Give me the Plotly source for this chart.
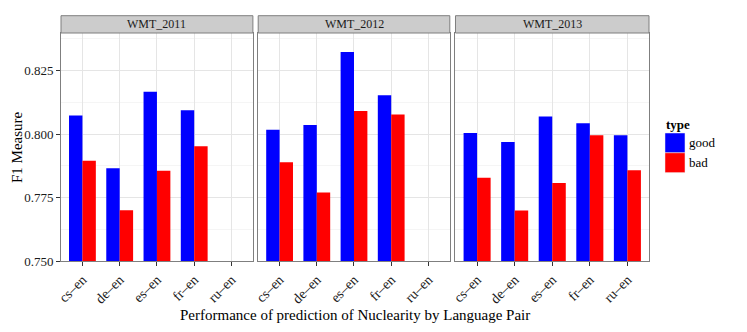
import plotly.graph_objects as go

pairs = ["cs\u2013en", "de\u2013en", "es\u2013en", "fr\u2013en", "ru\u2013en"]
years = ["WMT_2011", "WMT_2012", "WMT_2013"]
good_2011 = [0.8073, 0.7865, 0.8167, 0.8094, None]
bad_2011 = [0.7895, 0.7700, 0.7855, 0.7952, None]
good_2012 = [0.8017, 0.8036, 0.8323, 0.8153, None]
bad_2012 = [0.7889, 0.7770, 0.8091, 0.8077, None]
good_2013 = [0.8004, 0.7969, 0.8069, 0.8043, 0.7995]
bad_2013 = [0.7828, 0.7699, 0.7807, 0.7995, 0.7857]
y_ticks = [0.750, 0.775, 0.800, 0.825]
y_minor = [0.7625, 0.7875, 0.8125, 0.8375]

good_color = "#0000FF"
bad_color = "#FF0000"
FONT = "Liberation Serif"

goods = [good_2011, good_2012, good_2013]
bads = [bad_2011, bad_2012, bad_2013]

fig = go.Figure()
for i in range(3):
    sfx = "" if i == 0 else str(i + 1)
    fig.add_trace(go.Bar(x=pairs, y=goods[i], name="good", marker_color=good_color,
                         marker_line_width=0, xaxis="x" + sfx, yaxis="y" + sfx,
                         showlegend=False, offsetgroup="good"))
    fig.add_trace(go.Bar(x=pairs, y=bads[i], name="bad", marker_color=bad_color,
                         marker_line_width=0, xaxis="x" + sfx, yaxis="y" + sfx,
                         showlegend=False, offsetgroup="bad"))

# the page body has an 8px margin, so the figure is sized/offset to compensate
W = 588.3
H = 228.0
domains = [[0, 192 / W], [197.3 / W, 389 / W], [394.7 / W, 1]]
border = "#7F7F7F"
grid = "#E5E5E5"
layout = dict(
    width=739, height=324,
    margin=dict(l=53, r=98, t=25, b=71, autoexpand=False),
    paper_bgcolor="white", plot_bgcolor="white",
    barmode="group", bargap=0.28, bargroupgap=0,
    font=dict(family=FONT, size=13, color="#000000"),
    showlegend=False,
)
for i in range(3):
    sfx = "" if i == 0 else str(i + 1)
    layout["xaxis" + sfx] = dict(
        domain=domains[i], anchor="y" + sfx, type="category",
        categoryorder="array", categoryarray=pairs, automargin=False,
        range=[-0.575, 4.575], showgrid=True, gridcolor=grid, gridwidth=1,
        showline=True, linecolor=border, linewidth=1, mirror=True,
        ticks="outside", ticklen=4, tickcolor="#333333", tickangle=-45,
        tickfont=dict(family=FONT, size=14, color="#1a1a1a"), zeroline=False,
    )
    yax = dict(
        domain=[0, 1], anchor="x" + sfx, range=[0.750, 0.8398], automargin=False,
        tickvals=y_ticks, tickformat=".3f",
        showgrid=True, gridcolor=grid, gridwidth=1, zeroline=False,
        showline=True, linecolor=border, linewidth=1, mirror=True,
        minor=dict(tickvals=y_minor, showgrid=True, gridcolor="#F5F5F5", ticks=""),
        tickfont=dict(family=FONT, size=13, color="#1a1a1a"),
    )
    if i == 0:
        yax.update(ticks="outside", ticklen=4, tickcolor="#333333")
    else:
        yax.update(matches="y", showticklabels=False, ticks="")
    layout["yaxis" + sfx] = yax

fig.update_layout(**layout)


def px_x(p):
    return (p - 61) / W


def px_y(p):
    return (261 - p) / H


strip_top = px_y(15.7)
for i in range(3):
    sfx = "" if i == 0 else str(i + 1)
    fig.add_shape(type="rect", xref="x" + sfx + " domain", yref="paper",
                  x0=0, x1=1, y0=1, y1=strip_top,
                  fillcolor="#CCCCCC", line=dict(color=border, width=1), layer="above")
    fig.add_annotation(xref="x" + sfx + " domain", yref="paper", x=0.5,
                       y=(1 + strip_top) / 2, text=years[i], showarrow=False,
                       font=dict(family=FONT, size=12, color="#1a1a1a"),
                       xanchor="center", yanchor="middle")

fig.add_annotation(xref="paper", yref="paper", x=px_x(355), y=px_y(315),
                   text="Performance of prediction of Nuclearity by Language Pair",
                   showarrow=False, font=dict(family=FONT, size=15, color="#000000"),
                   xanchor="center", yanchor="middle")
fig.add_annotation(xref="paper", yref="paper", x=px_x(17), y=px_y(147),
                   text="F1 Measure", textangle=-90,
                   showarrow=False, font=dict(family=FONT, size=15, color="#000000"),
                   xanchor="center", yanchor="middle")

# manual legend
fig.add_annotation(xref="paper", yref="paper", x=px_x(664), y=px_y(124),
                   text="<b>type</b>", showarrow=False, xanchor="left", yanchor="middle",
                   font=dict(family=FONT, size=13, color="#000000"))
for j, (lab, col) in enumerate([("good", good_color), ("bad", bad_color)]):
    top = 133 + 19.8 * j
    fig.add_shape(type="rect", xref="paper", yref="paper",
                  x0=px_x(665.3), x1=px_x(685.3), y0=px_y(top + 19.8), y1=px_y(top),
                  fillcolor=col, line=dict(color="#EEEEEE", width=0.5))
    fig.add_annotation(xref="paper", yref="paper", x=px_x(687.5), y=px_y(top + 9.9),
                       text=lab, showarrow=False, xanchor="left", yanchor="middle",
                       font=dict(family=FONT, size=13, color="#000000"))

fig.write_html("out.html")
